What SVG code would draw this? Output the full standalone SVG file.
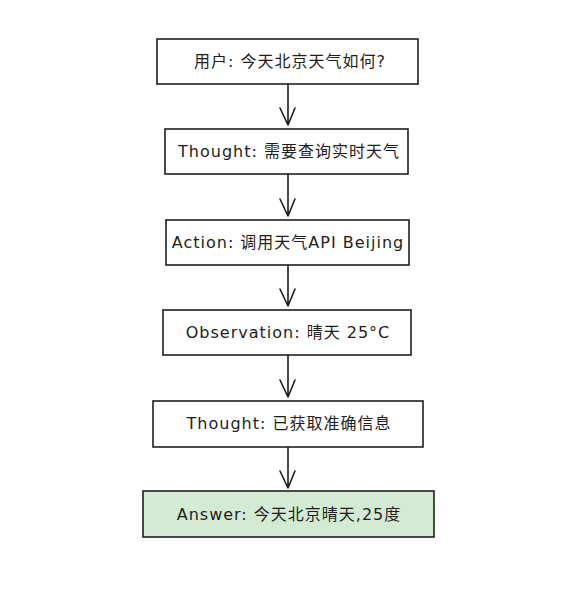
<svg xmlns="http://www.w3.org/2000/svg" width="565" height="594" viewBox="0 0 565 594">
<defs>
<style>
.box{fill:#ffffff;stroke:#1e1e1e;stroke-width:1.6}
.ans{fill:#d3ebd3;stroke:#1e1e1e;stroke-width:1.6}
.t{font-family:"DejaVu Sans","Noto Sans CJK SC",sans-serif;font-size:16px;letter-spacing:1px;fill:#1e1e1e;text-anchor:middle;dominant-baseline:central}
.c{fill:none;stroke:#1e1e1e;stroke-width:1.6;stroke-linecap:round;stroke-linejoin:round}
</style>
</defs>
<rect width="565" height="594" fill="#ffffff"/>
<g id="connectors">
<path class="c" d="M288 84 L288 125 M280 108 L288 125 L295 108"/>
<path class="c" d="M288 174 L288 216 M280 199 L288 216 L295 199"/>
<path class="c" d="M288 265 L288 306 M280 289 L288 306 L295 289"/>
<path class="c" d="M288 355 L288 397 M280 380 L288 397 L295 380"/>
<path class="c" d="M288 447 L288 488 M280 471 L288 488 L295 471"/>
</g>
<g id="n1"><rect class="box" x="157" y="39" width="261" height="45"/><text class="t" x="290" y="61">用户: 今天北京天气如何?</text></g>
<g id="n2"><rect class="box" x="165" y="129" width="243" height="45"/><text class="t" x="289" y="151">Thought: 需要查询实时天气</text></g>
<g id="n3"><rect class="box" x="166" y="220" width="243" height="45"/><text class="t" x="288" y="242">Action: 调用天气API Beijing</text></g>
<g id="n4"><rect class="box" x="163" y="310" width="248" height="45"/><text class="t" x="288" y="332">Observation: 晴天 25°C</text></g>
<g id="n5"><rect class="box" x="153" y="401" width="270" height="46"/><text class="t" x="289" y="423">Thought: 已获取准确信息</text></g>
<g id="n6"><rect class="ans" x="143" y="491" width="291" height="46"/><text class="t" x="289" y="514">Answer: 今天北京晴天,25度</text></g>
</svg>
